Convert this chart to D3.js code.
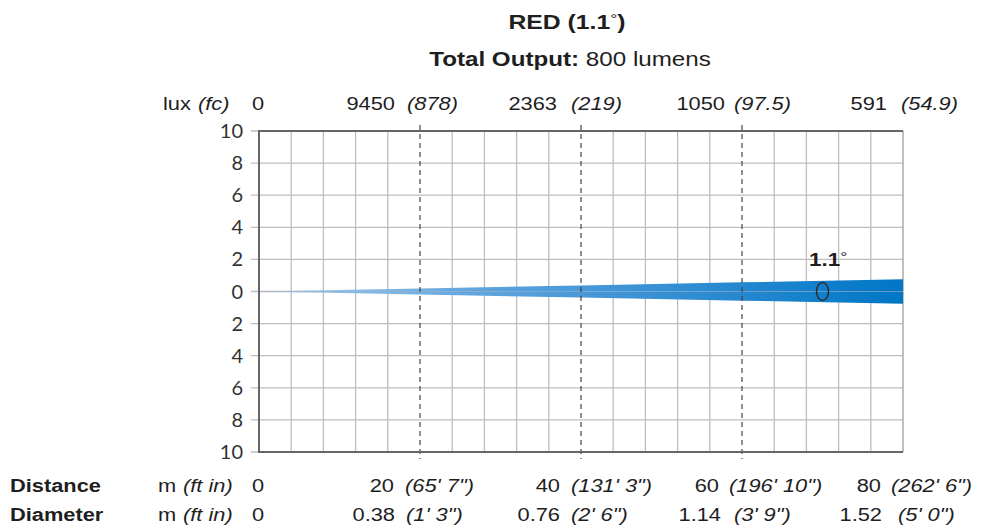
<!DOCTYPE html>
<html>
<head>
<meta charset="utf-8">
<script src="https://cdn.jsdelivr.net/npm/d3@7/dist/d3.min.js"></script>
<style>
  html, body { margin: 0; padding: 0; background: #fff; }
  svg { display: block; }
  text { font-family: "Liberation Sans", Arial, sans-serif; fill: #1e1e1e; }
</style>
</head>
<body>
<svg id="chart" width="1006" height="532"></svg>
<script>
// ---- data ----
const distances = [0, 20, 40, 60, 80];               // m
const distanceFt = ["", "65' 7\"", "131' 3\"", "196' 10\"", "262' 6\""];
const diameters = [0, 0.38, 0.76, 1.14, 1.52];        // m
const diameterFt = ["", "1' 3\"", "2' 6\"", "3' 9\"", "5' 0\""];
const luxValues = [0, 9450, 2363, 1050, 591];
const fcValues = ["", "878", "219", "97.5", "54.9"];
const yTicks = [10, 8, 6, 4, 2, 0, -2, -4, -6, -8, -10];
const beamAngle = "1.1";
const colorName = "RED";
const outputLumens = 800;

// ---- layout ----
const svg = d3.select("#chart");
const L = 259, R = 903, T = 131, B = 452;
const x = d3.scaleLinear().domain([0, 80]).range([L, R]);
const y = d3.scaleLinear().domain([10, -10]).range([T, B]);
const gridX = d3.range(4, 80, 4).filter(v => v % 20 !== 0);
const SX = 1.18; // horizontal stretch of the Arial-like texts

function txt(px, py, opts) {
  const t = svg.append("text")
    .attr("transform", `translate(${px},${py}) scale(${SX},1)`)
    .attr("text-anchor", opts.anchor || "start")
    .style("font-size", (opts.size || 18.5) + "px");
  if (opts.weight) t.style("font-weight", opts.weight);
  if (opts.italic) t.style("font-style", "italic");
  if (opts.text !== undefined) t.text(opts.text);
  return t;
}

// gradient
const defs = svg.append("defs");
const grad = defs.append("linearGradient").attr("id", "beamGrad")
  .attr("gradientUnits", "userSpaceOnUse")
  .attr("x1", x(0)).attr("x2", x(80)).attr("y1", 0).attr("y2", 0);
grad.append("stop").attr("offset", 0).attr("stop-color", "#a9cdee");
grad.append("stop").attr("offset", 0.35).attr("stop-color", "#5da3de");
grad.append("stop").attr("offset", 1).attr("stop-color", "#0076c6");

// grid
const g = svg.append("g");
g.selectAll(".vg").data(gridX).join("line")
  .attr("x1", d => x(d)).attr("x2", d => x(d)).attr("y1", T).attr("y2", B)
  .attr("stroke", "#bdbdbd").attr("stroke-width", 1.3);
g.selectAll(".hg").data(yTicks).join("line")
  .attr("x1", L - 8).attr("x2", R).attr("y1", d => y(d)).attr("y2", d => y(d))
  .attr("stroke", "#bdbdbd").attr("stroke-width", 1.3);
g.append("line").attr("x1", R).attr("x2", R).attr("y1", T).attr("y2", B)
  .attr("stroke", "#aaa").attr("stroke-width", 1.5);

// beam
const upper = distances.map((d, i) => [x(d), y(diameters[i] / 2)]);
const lower = distances.map((d, i) => [x(d), y(-diameters[i] / 2)]).reverse();
svg.append("path")
  .attr("d", d3.line()(upper.concat(lower)) + "Z")
  .attr("fill", "url(#beamGrad)");
svg.append("line").attr("x1", L).attr("x2", R).attr("y1", y(0)).attr("y2", y(0))
  .attr("stroke", "#9fb3c6").attr("stroke-width", 1).attr("opacity", 0.6);

// dashed reference lines
svg.selectAll(".dl").data(distances.slice(1, 4)).join("line")
  .attr("x1", d => x(d)).attr("x2", d => x(d)).attr("y1", T - 6).attr("y2", B + 7)
  .attr("stroke", "#444").attr("stroke-width", 1.2).attr("stroke-dasharray", "5,4");

// frame (top, left, bottom)
svg.append("path")
  .attr("d", `M${R},${T}H${L}V${B}H${R}`)
  .attr("fill", "none").attr("stroke", "#666").attr("stroke-width", 2);

// y tick labels
svg.selectAll(".yl").data(yTicks).join("text")
  .attr("x", 243).attr("y", d => y(d) + 7)
  .attr("text-anchor", "end")
  .style("font-family", "Lato, 'Open Sans', sans-serif")
  .style("font-size", "20px").style("fill", "#333")
  .text(d => Math.abs(d));

// title
const t1 = txt(567, 29, { anchor: "middle", size: 21, weight: "bold" });
t1.append("tspan").text(colorName + " (" + beamAngle);
t1.append("tspan").style("font-weight", "normal").style("font-size", "15px").attr("dy", -5).text("°");
t1.append("tspan").attr("dy", 5).text(")");
const t2 = txt(570, 66, { anchor: "middle", size: 20.5 });
t2.append("tspan").style("font-weight", "bold").text("Total Output: ");
t2.append("tspan").text(outputLumens + " lumens");

// label rows
function row(yPos, nums, pars, offNum, offPar) {
  nums.forEach((n, i) => {
    if (i === 0) {
      txt(x(0) - 1, yPos, { anchor: "middle", text: n });
      return;
    }
    txt(x(distances[i]) + offNum[i], yPos, { anchor: "end", text: n });
    txt(x(distances[i]) + offPar[i], yPos, { italic: true, text: "(" + pars[i] + ")" });
  });
}
txt(163, 110, { text: "lux" });
txt(198, 110, { italic: true, text: "(fc)" });
row(110, luxValues, fcValues, [0, -25, -24, -17, -16], [0, -13, -10, -8, -2]);

txt(10, 492, { weight: "bold", text: "Distance" });
txt(10, 521, { weight: "bold", text: "Diameter" });
[492, 521].forEach(yy => {
  txt(158, yy, { text: "m" });
  txt(183, yy, { italic: true, text: "(ft in)" });
});
row(492, distances, distanceFt, [0, -26, -21, -23, -22], [0, -15, -10, -13, -12]);
row(521, diameters, diameterFt, [0, -25, -21, -21, -21], [0, -14, -10, -8, -5]);

// beam annotation
const an = txt(809, 266, { size: 19, weight: "bold" });
an.append("tspan").text(beamAngle);
an.append("tspan").style("font-weight", "normal").style("font-size", "15px").attr("dy", -4).text("°");
svg.append("ellipse").attr("cx", x(70)).attr("cy", y(0)).attr("rx", 6).attr("ry", 9)
  .attr("fill", "none").attr("stroke", "#2a2a2a").attr("stroke-width", 1.4);
</script>
</body>
</html>
